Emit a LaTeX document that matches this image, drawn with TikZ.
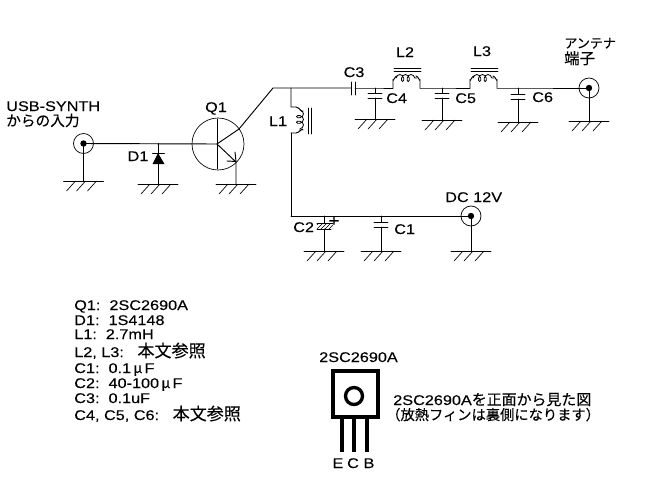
\documentclass[tikz,border=0pt]{standalone}
\usepackage{fontspec}
\setmainfont[FakeStretch=1.16,FakeBold=0.1]{Liberation Sans}
\newfontfamily\cjk[FakeBold=0.15]{Noto Sans CJK JP}
\usetikzlibrary{decorations.pathmorphing,patterns}
\tikzset{
  x=0.75pt,y=-0.75pt,
  wire/.style={line width=0.7pt,black,line cap=round},
  plate/.style={wire},
  coilw/.style={wire,line width=0.6pt,decorate,decoration={coil,aspect=0.7,segment length=4.2pt,amplitude=2.6pt}},
  lbl/.style={inner sep=0pt,anchor=base west,font=\fontsize{10.5pt}{10.5pt}\selectfont,text=black},
  clbl/.style={lbl,anchor=base},
  thickw/.style={line width=2.5pt,black},
  gnd/.pic={
    \draw[wire] (-20,0)--(20,0);
    \draw[wire,line width=0.5pt] (-8,0)--(-17,10) (2,0)--(-7,10) (13,0)--(4,10);
  },
  jack/.pic={
    \draw[wire,line width=0.55pt,fill=none] (0,0) circle[radius=10];
    \fill (0,0) circle[radius=3.2];
  },
  hplate/.pic={\draw[plate] (-7,-2.5)--(7,-2.5) (-7,2.5)--(7,2.5);}
}
\newcommand{\jp}[2][10.5pt]{{\cjk\fontsize{#1}{#1}\selectfont #2}}
\begin{document}
\begin{tikzpicture}
\useasboundingbox (0,0) rectangle (650,494);
\fill[white] (0,0) rectangle (650,494);
% junctions
\coordinate (jin) at (83.5,143.5);
\coordinate (b) at (217,144);
\coordinate (cbend) at (239,129);
\coordinate (top) at (273,88);
\coordinate (nl1) at (291,88);
\coordinate (c3a) at (351,88);
\coordinate (c3b) at (355,88);
\coordinate (nc4) at (375,88);
\coordinate (l2a) at (393,88);
\coordinate (l2b) at (420,88);
\coordinate (nc5) at (442,88);
\coordinate (l3a) at (470,88);
\coordinate (l3b) at (497,88);
\coordinate (nc6) at (518,88);
\coordinate (jant) at (589,88);
\coordinate (nd1) at (158,143.5);
\coordinate (e) at (236,162);
\coordinate (l1a) at (291,107);
\coordinate (l1b) at (291,133);
\coordinate (nbot) at (291,216);
\coordinate (nc2) at (324,216);
\coordinate (nc1) at (381,216);
\coordinate (jdc) at (471,216);
% grounds
\coordinate (g1) at (83.5,181);
\coordinate (g2) at (158,184);
\coordinate (g3) at (236,184);
\coordinate (g4) at (375,119);
\coordinate (g5) at (442,120);
\coordinate (g6) at (518,122);
\coordinate (g7) at (589,121);
\coordinate (g8) at (324,251);
\coordinate (g9) at (381,251);
\coordinate (g10) at (471,251);
\foreach \g in {g1,g2,g3,g4,g5,g6,g7,g8,g9,g10} \pic at (\g) {gnd};
% jacks
\pic at (jin) {jack};
\pic at (jant) {jack};
\pic at (jdc) {jack};
% input and transistor
\draw[wire] (jin)--(b);
\draw[wire] (jin)--(g1);
\draw[wire] (nd1)--(g2);
\fill (158,153)--(152.5,164)--(164.5,164)--cycle;
\draw[wire] (152.5,153)--(164.5,153);
\draw[wire,line width=0.5pt] (218,144) circle[radius=26];
\draw[wire] (217,119)--(217,169);
\draw[wire] (b)--(cbend)--(top)--(nl1)--(c3a);
\draw[wire] (b)--(e)--(g3);
\draw[wire] (227,161)--(236,161.5)--(235,152);
% C3 & filter
\draw[wire] (351,82)--(351,95) (355,82)--(355,95);
\draw[wire] (c3b)--(nc4)--(l2a);
\draw[wire] (l2a)--(393,80) to[out=-90,in=180] (397,76);
\draw[coilw] (396,78)--(417,78);
\draw[wire] (416,76) to[out=0,in=-90] (420,80)--(l2b);
\draw[wire] (l2b)--(nc5)--(l3a);
\draw[wire] (l3a)--(470,80) to[out=-90,in=180] (474,76);
\draw[coilw] (473,78)--(494,78);
\draw[wire] (493,76) to[out=0,in=-90] (497,80)--(l3b);
\draw[wire] (l3b)--(nc6)--(jant);
\draw[wire] (394,68)--(421,68) (394,71)--(421,71) (471,68)--(498,68) (471,71)--(498,71);
% shunt C
\draw[wire] (nc4)--(375,93) (375,98)--(g4);
\pic at (375,95.5) {hplate};
\draw[wire] (nc5)--(442,93) (442,98)--(g5);
\pic at (442,95.5) {hplate};
\draw[wire] (nc6)--(518,94) (518,99)--(g6);
\pic at (518,96.5) {hplate};
\draw[wire] (jant)--(g7);
% L1
\draw[wire] (nl1)--(l1a)--(296,107) to[out=0,in=-90] (303,111);
\draw[coilw] (300,110)--(300,131);
\draw[wire] (303,130) to[out=90,in=0] (296,133)--(l1b);
\draw[wire] (l1b)--(nbot);
\draw[wire] (308,108)--(308,134) (311,108)--(311,134);
% bottom
\draw[wire] (nbot)--(jdc);
\draw[wire] (jdc)--(g10);
\draw[wire] (nc2)--(324,223) (324,229)--(g8);
\fill[pattern=north east lines] (317,224) rectangle (333,228);
\draw[wire,line width=0.5pt] (317,223)--(333,223) (317,229)--(331,229);
\draw[wire] (nc1)--(381,222) (381,227)--(g9);
\draw[wire] (374,222)--(388,222) (374,227)--(388,227);
% labels
\node[lbl] (t1) at (6,111) {USB-SYNTH};
\node[lbl] (t2) at (6,126) {\jp[11pt]{からの入力}};
\node[clbl] (tq1) at (216,112) {Q1};
\node[clbl] (tl1) at (278,126) {L1};
\node[clbl] (td1) at (138,161) {D1};
\node[clbl] (tc3) at (354,77) {C3};
\node[clbl] (tl2) at (405,57) {L2};
\node[clbl] (tl3) at (482,56) {L3};
\node[lbl] (tc4) at (386,103) {C4};
\node[lbl] (tc5) at (455,103) {C5};
\node[lbl] (tc6) at (532,102) {C6};
\node[lbl] (ta1) at (564,48) {\jp[9.8pt]{アンテナ}};
\node[lbl] (ta2) at (564,64) {\jp[11.5pt]{端子}};
\node[lbl] (tdc) at (445,202) {DC 12V};
\node[lbl] (tc2) at (293,232) {C2};
\node[clbl,font=\fontsize{12pt}{12pt}\selectfont] (tplus) at (334,226) {+};
\node[lbl] (tc1) at (394,234) {C1};
% parts list
\node[lbl] (p1) at (74,310) {Q1:\ \ 2SC2690A};
\node[lbl] (p2) at (74,325) {D1:\ \ 1S4148};
\node[lbl] (p3) at (74,339) {L1:\ \ 2.7mH};
\node[lbl] (p4) at (74,357) {L2, L3:\ \ \ \jp[12.8pt]{本文参照}};
\node[lbl] (p5) at (74,373) {C1:\ \ 0.1\,\jp{μ}\,F};
\node[lbl] (p6) at (74,388) {C2:\ \ 40-100\,\jp{μ}\,F};
\node[lbl] (p7) at (74,403) {C3:\ \ 0.1uF};
\node[lbl] (p8) at (74,420) {C4, C5, C6:\ \ \ \jp[12.8pt]{本文参照}};
% transistor outline
\node[clbl] (t3) at (358.5,362) {2SC2690A};
\draw[thickw] (333,371) rectangle (378,417);
\draw[thickw] (354,396) circle[radius=8.5];
\draw[thickw] (342,417)--(342,452) (354,417)--(354,452) (367,417)--(367,452);
\node[clbl] (te) at (338,468) {E};
\node[clbl] (tcc) at (353,468) {C};
\node[clbl] (tb) at (369,468) {B};
\node[lbl] (n1) at (393,405) {2SC2690A\jp[11.2pt]{を正面から見た図}};
\node[lbl] (n2) at (386,420) {\jp[10.7pt]{（放熱フィンは裏側になります）}};
\end{tikzpicture}
\end{document}
